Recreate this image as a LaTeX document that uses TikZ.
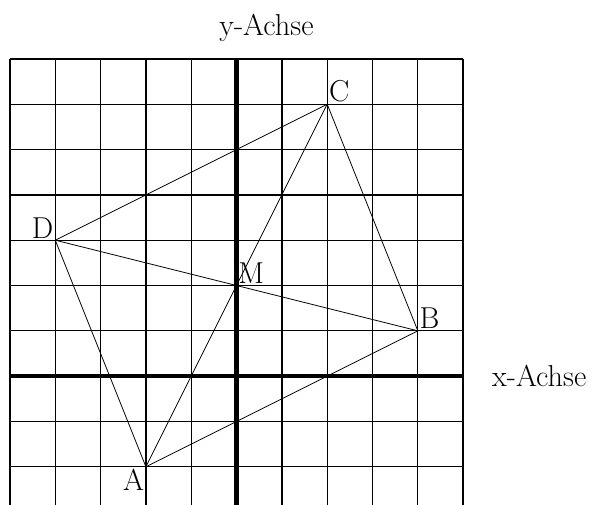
\documentclass[tikz,border=0pt]{standalone}
\usepackage{tikz}
\usetikzlibrary{positioning}

\begin{document}
\begin{tikzpicture}[x=1cm, y=1cm, font=\fontsize{19}{23}\selectfont,
  lbl/.style={inner sep=1pt}]
  \useasboundingbox (-5.22,-2.83) rectangle (7.91,8.30);
  % grid
  \draw[line width=0.8pt] (-5,-3) grid (5,7);
  % axes
  \draw[line width=2.9pt] (-5,0) -- (5,0);
  \draw[line width=2.9pt] (0,-3) -- (0,7);
  \node (xlab) at (6.68,0) {x-Achse};
  \node (ylab) at (0.66,7.68) {y-Achse};
  % points
  \coordinate (A) at (-2,-2);
  \coordinate (B) at (4,1);
  \coordinate (C) at (2,6);
  \coordinate (D) at (-4,3);
  \coordinate (M) at (0,2);
  % quadrilateral and diagonals
  \draw[line width=0.5pt] (A) -- (B) -- (C) -- (D) -- (A);
  \draw[line width=0.5pt] (A) -- (C);
  \draw[line width=0.5pt] (D) -- (B);
  % labels
  \node[lbl, anchor=north east] (Alab) at (A) {A};
  \node[lbl, anchor=south west] (Blab) at (B) {B};
  \node[lbl, anchor=south west] (Clab) at (C) {C};
  \node[lbl, anchor=south east] (Dlab) at (D) {D};
  \node[lbl, anchor=south west] (Mlab) at (M) {M};
\end{tikzpicture}
\end{document}
